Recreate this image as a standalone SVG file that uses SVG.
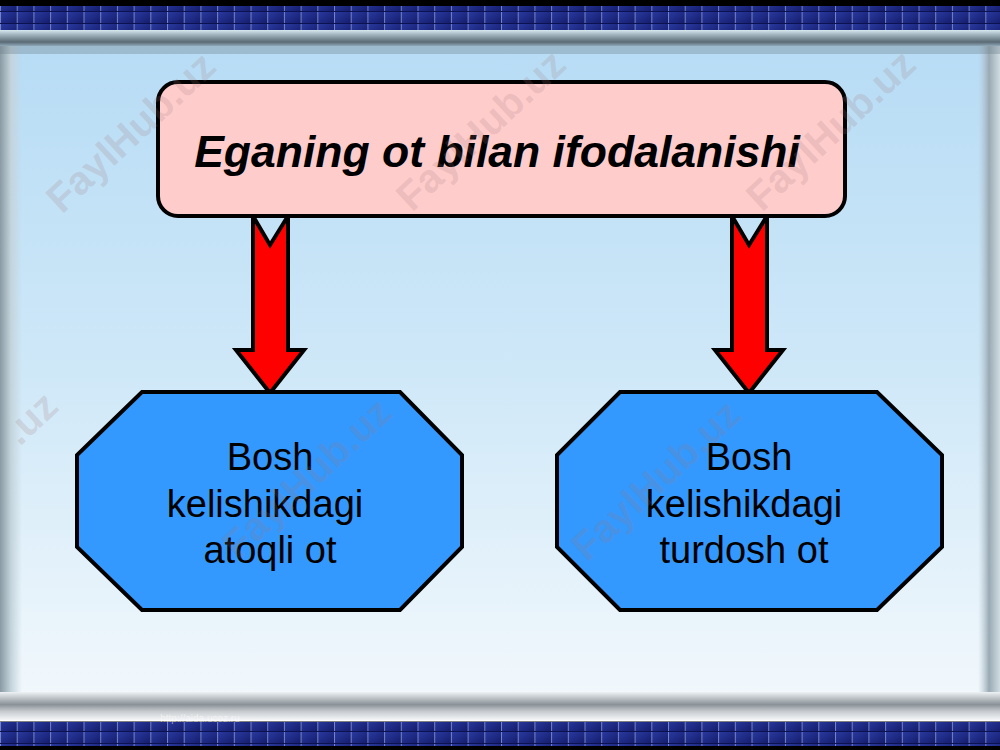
<svg xmlns="http://www.w3.org/2000/svg" width="1000" height="750" viewBox="0 0 1000 750">
<defs>
<style>
.box{stroke:#000;stroke-width:4;stroke-linejoin:round}
.arrow{fill:#ff0000;stroke:#000;stroke-width:4;stroke-linejoin:miter}
.oct{fill:#3399ff;stroke:#000;stroke-width:4;stroke-linejoin:miter}
.lbl{font-family:"Liberation Sans",Arial,sans-serif;font-size:38px;fill:#000;text-anchor:middle}
.ttl{font-family:"Liberation Sans",Arial,sans-serif;font-size:44.5px;font-weight:bold;font-style:italic;fill:#000;text-anchor:middle}
.wm{font-family:"Liberation Sans",Arial,sans-serif;font-size:40px;font-weight:bold;fill:#a07878;fill-opacity:0.2;text-anchor:middle}
</style>
<linearGradient id="panel" x1="0" y1="0" x2="0" y2="1">
<stop offset="0" stop-color="#b7dcf5"/>
<stop offset="0.5" stop-color="#cfe8f8"/>
<stop offset="1" stop-color="#f2f8fc"/>
</linearGradient>
<linearGradient id="topbar" x1="0" y1="0" x2="0" y2="1">
<stop offset="0" stop-color="#d8e8ee"/>
<stop offset="0.25" stop-color="#a8bcc6"/>
<stop offset="0.75" stop-color="#5a6a74"/>
<stop offset="1" stop-color="#8fa8b8"/>
</linearGradient>
<linearGradient id="botbar" x1="0" y1="0" x2="0" y2="1">
<stop offset="0" stop-color="#eef2f4"/>
<stop offset="0.45" stop-color="#8a9298"/>
<stop offset="0.7" stop-color="#c8ccd0"/>
<stop offset="1" stop-color="#f4f6f8"/>
</linearGradient>
<linearGradient id="leftedge" x1="0" y1="0" x2="1" y2="0">
<stop offset="0" stop-color="#8a9aa4"/>
<stop offset="0.5" stop-color="#c4d4dc"/>
<stop offset="1" stop-color="#c4d4dc" stop-opacity="0"/>
</linearGradient>
<linearGradient id="rightedge" x1="0" y1="0" x2="1" y2="0">
<stop offset="0" stop-color="#b8c8d2" stop-opacity="0"/>
<stop offset="0.5" stop-color="#9aaab4"/>
<stop offset="1" stop-color="#d0dce2"/>
</linearGradient>
<linearGradient id="tile" x1="0" y1="0" x2="1" y2="1">
<stop offset="0" stop-color="#2a3aa0"/>
<stop offset="1" stop-color="#141c6a"/>
</linearGradient>
<pattern id="tiles" x="0" y="0" width="16.7" height="12" patternUnits="userSpaceOnUse">
<rect width="16.7" height="12" fill="url(#tile)"/>
<rect x="0" y="0" width="1" height="12" fill="#b8c4f0" fill-opacity="0.55"/>
<rect x="0" y="11" width="16.7" height="1" fill="#0c1250"/>
</pattern>
</defs>
<rect width="1000" height="750" fill="#000"/>
<g id="background">
<rect x="0" y="6" width="1000" height="24" fill="url(#tiles)"/>
<rect x="0" y="30" width="1000" height="16" fill="url(#topbar)"/>
<rect x="0" y="46" width="1000" height="656" fill="url(#panel)"/>
<rect x="0" y="46" width="22" height="656" fill="url(#leftedge)"/>
<rect x="978" y="46" width="22" height="656" fill="url(#rightedge)"/>
<rect x="0" y="46" width="1000" height="8" fill="#6a7e8a" fill-opacity="0.35"/>
<rect x="0" y="692" width="1000" height="28" fill="url(#botbar)"/>
<rect x="0" y="720" width="1000" height="1.5" fill="#ffffff"/>
<rect x="0" y="722" width="1000" height="24" fill="url(#tiles)"/>
<text x="200" y="722" font-family="Liberation Sans, Arial, sans-serif" font-size="10" fill="#ffffff" fill-opacity="0.5" text-anchor="middle">http://aida.ucoz.ru</text>
</g>
<g id="connectors">
<path class="arrow" d="M253,216 L270,245 L288,216 L288,350 L304,350 L270,393 L236,350 L253,350 Z"/>
<path class="arrow" d="M732,216 L749,245 L767,216 L767,350 L783,350 L749,393 L715,350 L732,350 Z"/>
</g>
<g id="title">
<rect class="box" x="158" y="82" width="687" height="134" rx="20" ry="20" fill="#ffcccc"/>
<text class="ttl" x="497" y="167">Eganing ot bilan ifodalanishi</text>
</g>
<g id="node-left">
<polygon class="oct" points="142,392 400,392 462,455 462,547 400,610 142,610 77,547 77,455"/>
<text class="lbl" x="270" y="470">Bosh</text>
<text class="lbl" x="265" y="517">kelishikdagi</text>
<text class="lbl" x="270" y="563">atoqli ot</text>
</g>
<g id="node-right">
<polygon class="oct" points="620,392 877,392 942,455 942,547 877,610 620,610 557,547 557,455"/>
<text class="lbl" x="749" y="470">Bosh</text>
<text class="lbl" x="744" y="517">kelishikdagi</text>
<text class="lbl" x="744" y="563">turdosh ot</text>
</g>
<g id="watermarks">
<text class="wm" transform="translate(140,142) rotate(-43)">FaylHub.uz</text>
<text class="wm" transform="translate(490,140) rotate(-43)">FaylHub.uz</text>
<text class="wm" transform="translate(840,140) rotate(-43)">FaylHub.uz</text>
<text class="wm" transform="translate(40,428) rotate(-43)">.uz</text>
<text class="wm" transform="translate(316,488) rotate(-43)">FaylHub.uz</text>
<text class="wm" transform="translate(665,490) rotate(-43)">FaylHub.uz</text>
</g>
</svg>
